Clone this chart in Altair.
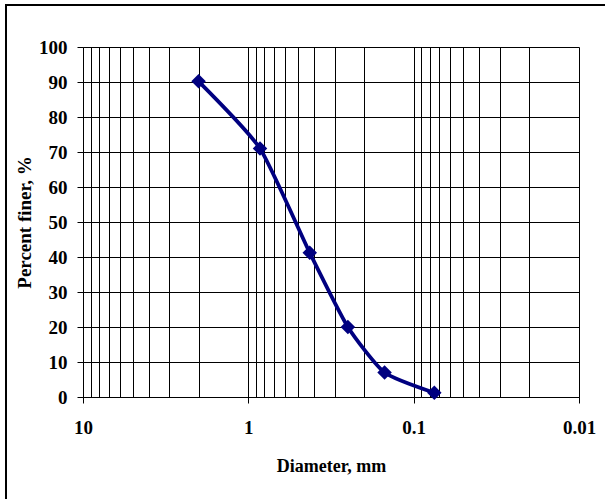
import altair as alt
import pandas as pd

# Data
diameter = [2.0, 0.85, 0.425, 0.25, 0.15, 0.075]
percent_finer = [90.2, 71.0, 41.2, 20.0, 7.0, 1.2]

x_grid_values = [10, 9, 8, 7, 6, 5, 4, 3, 2,
                 1, 0.9, 0.8, 0.7, 0.6, 0.5, 0.4, 0.3, 0.2,
                 0.1, 0.09, 0.08, 0.07, 0.06, 0.05, 0.04, 0.03, 0.02,
                 0.01]
x_label_values = [10, 1, 0.1, 0.01]
y_tick_values = [0, 10, 20, 30, 40, 50, 60, 70, 80, 90, 100]

df = pd.DataFrame({"d": diameter, "p": percent_finer})

FONT = "Liberation Serif"
NAVY = "#000080"
decade_test = "indexof([10, 1, 0.1, 0.01], datum.value) >= 0"

x_enc = alt.X(
    "d:Q",
    scale=alt.Scale(type="log", domain=[0.01, 10], reverse=True, nice=False),
    axis=alt.Axis(
        values=x_grid_values,
        grid=True, gridColor="black", gridWidth=1, gridOpacity=1,
        tickSize=6, tickColor="black",
        tickOpacity={"condition": {"test": decade_test, "value": 1}, "value": 0},
        labelExpr=f"{decade_test} ? format(datum.value, '~g') : ''",
        labelOverlap=False, labelFlush=False,
        labelFont=FONT, labelFontSize=19, labelFontWeight="bold",
        labelColor="black", labelPadding=15,
        domainColor="black", domainWidth=1,
        title="Diameter, mm", titleFont=FONT, titleFontSize=18,
        titleFontWeight="bold", titleColor="black", titlePadding=20,
    ),
)

y_enc = alt.Y(
    "p:Q",
    scale=alt.Scale(domain=[0, 100], nice=False),
    axis=alt.Axis(
        values=y_tick_values, tickCount=11,
        grid=True, gridColor="black", gridWidth=1, gridOpacity=1,
        tickSize=6, tickColor="black",
        labelFont=FONT, labelFontSize=19, labelFontWeight="bold",
        labelColor="black", labelPadding=10, labelOverlap=False,
        domainColor="black", domainWidth=1,
        title="Percent finer, %", titleFont=FONT, titleFontSize=19,
        titleFontWeight="bold", titleColor="black", titlePadding=4,
    ),
)

base = alt.Chart(df)
line = base.mark_line(color=NAVY, strokeWidth=3.8, interpolate="cardinal", tension=0.45).encode(x=x_enc, y=y_enc)
points = base.mark_point(shape="diamond", filled=True, size=210, color=NAVY, opacity=1).encode(x=x_enc, y=y_enc)

frame = alt.Chart(pd.DataFrame({"z": [0]})).mark_rect(
    fillOpacity=0, stroke="black", strokeWidth=2
).encode(
    x=alt.value(-77), x2=alt.value(560),
    y=alt.value(-42), y2=alt.value(500),
)

chart = alt.layer(frame, line, points).properties(
    width=496, height=350,
    padding={"left": 83, "top": 47, "right": 26, "bottom": 102},
    autosize=alt.AutoSizeParams(type="none"),
    background="white",
).configure_view(stroke=None)

chart.save("out.html", embed_options={"renderer": "svg", "actions": False})
